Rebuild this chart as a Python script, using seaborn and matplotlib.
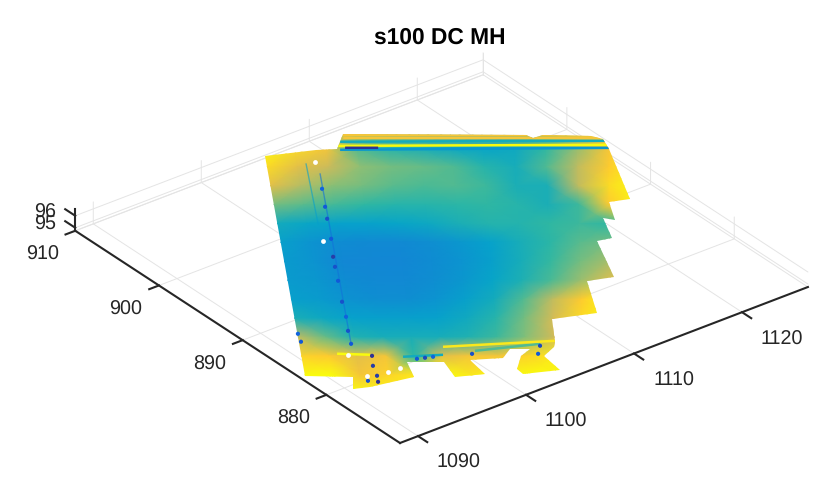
import numpy as np
import matplotlib
matplotlib.use('Agg')
import matplotlib.pyplot as plt
from matplotlib.colors import LinearSegmentedColormap, Normalize
from matplotlib.patches import Polygon
import seaborn as sns

# axis limits and ticks
x_lim = [1088.33, 1126.1]
y_lim = [871.2, 910.0]
z_lim = [94.75, 96.58]
x_ticks = [1090, 1100, 1110, 1120]
y_ticks = [880, 890, 900, 910]
z_ticks = [95, 96]
title = 's100 DC MH'

# parula colours
parula = ['#352A87', '#0F5CDD', '#1481D6', '#06A4CA', '#2EB7A4',
          '#87BF77', '#D1BB59', '#FEC832', '#F9FB0E']

# outline of the point cloud
cloud_x = [1105.4, 1088.1, 1090.8, 1089.7, 1090.9, 1094.4, 1095.3, 1097.4, 1096.7, 1098.8,
           1099.1, 1101.2, 1102.5, 1103.6, 1102.5, 1101.1, 1101.0, 1103.5, 1103.8, 1105.2,
           1105.7, 1107.6, 1110.8, 1113.0, 1115.0, 1117.2, 1118.3, 1119.6, 1120.1, 1121.4,
           1122.9, 1126.1, 1126.7, 1126.2, 1123.5, 1122.7, 1122.5, 1111.9, 1110.2, 1108.9]
cloud_y = [909.3, 882.2, 880.0, 878.6, 878.1, 877.3, 879.3, 877.7, 875.4, 874.5,
           876.7, 875.5, 876.3, 875.4, 875.0, 873.7, 872.8, 871.7, 874.0, 874.6,
           875.1, 877.9, 876.6, 880.7, 880.0, 884.9, 884.5, 887.3, 886.5, 888.9,
           888.3, 895.0, 896.4, 897.3, 899.55, 899.6, 900.25, 908.4, 907.0, 907.8]
cloud_z = 95.42

# corners of the height table: top left, top right, bottom left, bottom right
corner_x = [1107.5, 1129.7, 1086.6, 1106.0]
corner_y = [912.7, 895.9, 880.0, 865.4]

height = [
    [95.92, 95.88, 95.84, 95.84, 95.84, 95.85, 95.85, 95.85, 95.85, 95.85, 95.88, 95.90, 95.95],
    [96.00, 95.92, 95.85, 95.55, 95.48, 95.44, 95.40, 95.38, 95.40, 95.50, 95.65, 95.85, 96.00],
    [95.92, 95.80, 95.74, 95.64, 95.60, 95.58, 95.55, 95.48, 95.43, 95.55, 95.72, 95.88, 96.00],
    [95.80, 95.70, 95.63, 95.60, 95.56, 95.54, 95.55, 95.52, 95.44, 95.44, 95.72, 95.92, 96.00],
    [95.60, 95.56, 95.53, 95.50, 95.48, 95.48, 95.49, 95.50, 95.48, 95.44, 95.52, 95.88, 96.00],
    [95.42, 95.39, 95.37, 95.37, 95.38, 95.40, 95.44, 95.47, 95.47, 95.50, 95.52, 95.50, 95.60],
    [95.36, 95.32, 95.29, 95.28, 95.28, 95.30, 95.33, 95.37, 95.43, 95.49, 95.56, 95.60, 95.60],
    [95.34, 95.32, 95.27, 95.27, 95.27, 95.29, 95.32, 95.36, 95.43, 95.51, 95.60, 95.68, 95.70],
    [95.34, 95.33, 95.29, 95.28, 95.28, 95.30, 95.33, 95.38, 95.45, 95.54, 95.66, 95.78, 95.80],
    [95.36, 95.34, 95.31, 95.30, 95.30, 95.32, 95.36, 95.42, 95.55, 95.72, 95.88, 96.00, 96.00],
    [95.44, 95.40, 95.37, 95.36, 95.36, 95.37, 95.41, 95.48, 95.60, 95.76, 95.92, 96.00, 96.00],
    [95.72, 95.58, 95.46, 95.43, 95.43, 95.43, 95.46, 95.52, 95.62, 95.75, 95.85, 95.85, 95.85],
    [95.90, 95.88, 95.80, 95.85, 95.50, 95.80, 95.85, 95.85, 95.90, 95.95, 95.85, 95.85, 95.85],
    [96.00, 96.00, 95.85, 95.90, 95.95, 96.00, 95.95, 96.00, 96.00, 96.00, 96.00, 96.00, 96.00],
    [96.00, 96.00, 96.00, 96.00, 96.00, 96.00, 96.00, 96.00, 96.00, 96.00, 96.00, 96.00, 96.00],
]

# long thin strips: start x, end x, start y, end y, height
strip_x0 = [1111.84, 1111.57, 1111.04, 1110.56, 1110.32, 1110.79, 1095.50, 1100.23, 1091.91, 1098.72]
strip_x1 = [1126.56, 1126.58, 1126.60, 1126.36, 1126.21, 1112.72, 1098.01, 1104.66, 1093.75, 1105.80]
strip_y0 = [908.32, 907.97, 907.66, 907.27, 906.73, 906.74, 880.09, 877.60, 883.34, 879.47]
strip_y1 = [897.21, 896.65, 896.08, 895.53, 895.09, 905.28, 878.55, 875.54, 881.77, 875.22]
strip_h = [95.85, 95.85, 95.42, 96.00, 95.33, 95.02, 95.42, 95.55, 96.00, 95.95]

# the two cracks running down the left side
crack_x0 = [1107.08, 1107.01]
crack_x1 = [1102.42, 1093.62]
crack_y0 = [906.62, 904.85]
crack_y1 = [899.17, 883.87]
crack_h = [95.36, 95.20]

# low points along the crack and the lower edge
low_x = [1105.78, 1104.35, 1103.40, 1101.84, 1100.35, 1099.56, 1098.49, 1096.85, 1095.74, 1094.60,
         1093.62, 1093.77, 1092.93, 1092.28, 1091.80, 1091.30, 1096.13, 1096.69, 1097.25, 1099.79,
         1104.48, 1103.65, 1091.41, 1090.88]
low_y = [903.03, 900.82, 899.35, 896.86, 894.70, 893.46, 891.71, 889.12, 887.21, 885.50,
         883.87, 881.56, 880.37, 879.04, 878.30, 878.86, 879.24, 879.00, 878.76, 877.38,
         875.31, 874.47, 887.37, 886.32]
low_h = [95.15, 95.12, 95.10, 95.12, 95.05, 95.10, 95.12, 95.10, 95.15, 95.10,
         95.12, 95.02, 95.05, 95.05, 95.02, 95.10, 95.12, 95.08, 95.15, 95.10,
         95.08, 95.12, 95.15, 95.12]

# holes in the cloud
gap_x = [1101.19, 1107.79, 1093.28, 1094.34, 1091.69, 1092.46]
gap_y = [896.99, 906.45, 879.02, 878.95, 879.49, 882.74]


def project(x, y, z):
    # oblique view of the box, in picture pixels
    x = np.asarray(x, dtype=float) - x_lim[0]
    y = np.asarray(y, dtype=float) - y_lim[0]
    z = np.asarray(z, dtype=float) - z_lim[0]
    return 400 + 10.8 * x - 8.37 * y, 444 - 4.13 * x - 5.47 * y - 12 * z


sns.set_style('white')
plt.rcParams['font.family'] = ['Liberation Sans', 'DejaVu Sans']
plt.rcParams['text.hinting'] = 'no_hinting'

fig = plt.figure(figsize=(8.33, 5.02), dpi=100)
ax = fig.add_axes([0, 0, 1, 1])
ax.set_axis_off()
ax.set_xlim(0, 833)
ax.set_ylim(502, 0)

cmap = LinearSegmentedColormap.from_list('parula', parula)
norm = Normalize(95, 96)
grid_style = dict(color='#e4e4e4', lw=0.7, zorder=1)
axis_style = dict(color='#262626', lw=1.5, zorder=5, solid_capstyle='projecting')
label_style = dict(ha='center', va='center', fontsize=14.2, color='#262626')
x0, x1 = x_lim
y0, y1 = y_lim
z0, z1 = z_lim

# grid on the floor and the two back walls
for t in x_ticks:
    ax.plot(*project([t, t, t], [y0, y1, y1], [z0, z0, z1]), **grid_style)
for t in y_ticks:
    ax.plot(*project([x0, x1, x1], [t, t, t], [z0, z0, z1]), **grid_style)
for t in z_ticks:
    ax.plot(*project([x0, x1, x1], [y1, y1, y0], [t, t, t]), **grid_style)
ax.plot(*project([x1, x1], [y1, y1], [z0, z1]), **grid_style)
ax.plot(*project([x0, x1, x1], [y1, y1, y0], [z0, z0, z0]), **grid_style)

# the cloud
height = np.array(height)
rows, cols = height.shape
v = np.linspace(0, 1, rows)[:, None]
u = np.linspace(0, 1, cols)[None, :]
mesh_x = (1 - v) * ((1 - u) * corner_x[0] + u * corner_x[1]) + v * ((1 - u) * corner_x[2] + u * corner_x[3])
mesh_y = (1 - v) * ((1 - u) * corner_y[0] + u * corner_y[1]) + v * ((1 - u) * corner_y[2] + u * corner_y[3])
px, py = project(mesh_x, mesh_y, cloud_z)
mesh = ax.pcolormesh(px, py, height, cmap=cmap, norm=norm, shading='gouraud', zorder=2)
ox, oy = project(cloud_x, cloud_y, cloud_z)
outline = Polygon(np.column_stack([ox, oy]), closed=True, transform=ax.transData)
mesh.set_clip_path(outline)

for a, b, c, d, h in zip(strip_x0, strip_x1, strip_y0, strip_y1, strip_h):
    line, = ax.plot(*project([a, b], [c, d], cloud_z), color=cmap(norm(h)), lw=1.8, zorder=3,
                    solid_capstyle='butt')
    line.set_clip_path(outline)
for a, b, c, d, h in zip(crack_x0, crack_x1, crack_y0, crack_y1, crack_h):
    ax.plot(*project([a, b], [c, d], cloud_z), color=cmap(norm(h)), lw=1.0, alpha=0.6, zorder=3)

lx, ly = project(low_x, low_y, cloud_z)
sns.scatterplot(x=lx, y=ly, hue=low_h, palette=cmap, hue_norm=norm, s=9, linewidth=0,
                legend=False, ax=ax, zorder=4)
gx, gy = project(gap_x, gap_y, cloud_z)
sns.scatterplot(x=gx, y=gy, color='white', s=12, linewidth=0, legend=False, ax=ax, zorder=4)

# dark axes with ticks
ax.plot(*project([x0, x1], [y0, y0], [z0, z0]), **axis_style)
ax.plot(*project([x0, x0], [y0, y1], [z0, z0]), **axis_style)
ax.plot(*project([x0, x0], [y1, y1], [z0, z1]), **axis_style)
for t in x_ticks:
    ax.plot(*project([t, t], [y0, y0 - 1.1], [z0, z0]), **axis_style)
    tx, ty = project(t, y0, z0)
    ax.text(tx + 40, ty + 26, str(t), **label_style)
for t in y_ticks:
    ax.plot(*project([x0, x0 - 0.9], [t, t], [z0, z0]), **axis_style)
    tx, ty = project(x0, t, z0)
    ax.text(tx - 33, ty + 23, str(t), **label_style)
for t in z_ticks:
    ax.plot(*project([x0, x0], [y1, y1 + 1.2], [t, t]), **axis_style)
    tx, ty = project(x0, y1, t)
    ax.text(tx - 30, ty - 4, str(t), **label_style)

ax.text(440, 38, title, ha='center', va='center', fontsize=16.4, fontweight='bold', color='black')

ax.set_xlim(0, 833)
ax.set_ylim(502, 0)
fig.savefig('out.png', dpi=100)
